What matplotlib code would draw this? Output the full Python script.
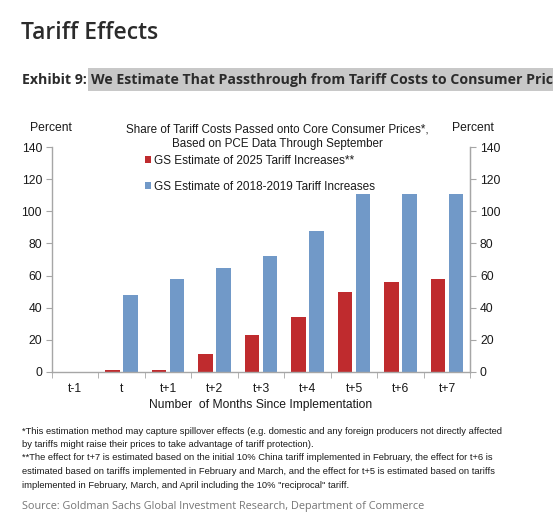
import matplotlib
matplotlib.use("Agg")
import matplotlib.pyplot as plt
import numpy as np
from matplotlib.patches import Rectangle

categories = ["t-1", "t", "t+1", "t+2", "t+3", "t+4", "t+5", "t+6", "t+7"]
gs_2025 = [0, 1, 1, 11, 23, 34, 50, 56, 58]
gs_2018_2019 = [0, 48, 58, 65, 72, 88, 111, 111, 111]
yticks = [0, 20, 40, 60, 80, 100, 120, 140]

W, H = 553, 524
fig = plt.figure(figsize=(W / 100, H / 100), dpi=100)
fig.patch.set_facecolor("white")

def fx(x):
    return x / W

def fy(y):
    return 1 - y / H

RED = "#BF2B2E"
BLUE = "#7199C8"
AXC = "#A6A6A6"
TXT = "#1a1a1a"
CH = "Liberation Sans"

left, right, y0, y140 = 51.75, 470.25, 372, 147
ax = fig.add_axes([fx(left), fy(y0), fx(right) - fx(left), (y0 - y140) / H])
x = np.arange(len(categories))
bw = 0.31
off = 0.19
ax.bar(x - off, gs_2025, width=bw, color=RED, label="GS Estimate of 2025 Tariff Increases**")
ax.bar(x + off, gs_2018_2019, width=bw, color=BLUE, label="GS Estimate of 2018-2019 Tariff Increases")
ax.set_xlim(-0.5, len(categories) - 0.5)
ax.set_ylim(0, 140)
ax.set_yticks(yticks)
ax.set_yticklabels([str(v) for v in yticks], fontfamily=CH, fontsize=8.7, color=TXT)
ax.set_xticks(x)
ax.set_xticklabels(categories, fontfamily=CH, fontsize=8.7, color=TXT)
ax.set_xticks(np.arange(len(categories) + 1) - 0.5, minor=True)
ax.tick_params(axis="x", which="major", length=0, pad=8)
ax.tick_params(axis="x", which="minor", length=4, color=AXC, direction="out")
ax.tick_params(axis="y", which="major", length=4, color=AXC, direction="out", pad=3)
ax.spines["top"].set_visible(False)
for s in ["left", "right", "bottom"]:
    ax.spines[s].set_color(AXC)
    ax.spines[s].set_linewidth(1.0)

ax2 = ax.twinx()
ax2.set_ylim(0, 140)
ax2.set_yticks(yticks)
ax2.set_yticklabels([str(v) for v in yticks], fontfamily=CH, fontsize=8.7, color=TXT)
ax2.tick_params(axis="y", length=4, color=AXC, direction="out", pad=3)
for s in ["top", "left", "bottom"]:
    ax2.spines[s].set_visible(False)
ax2.spines["right"].set_color(AXC)

ax.set_xlabel("Number  of Months Since Implementation", fontfamily=CH, fontsize=8.7, color=TXT, labelpad=3)

fig.text(fx(51), fy(128), "Percent", ha="center", va="center", fontfamily=CH, fontsize=8.7, color=TXT)
fig.text(fx(473), fy(128), "Percent", ha="center", va="center", fontfamily=CH, fontsize=8.7, color=TXT)
fig.text(fx(277), fy(130), "Share of Tariff Costs Passed onto Core Consumer Prices*,",
         ha="center", va="center", fontfamily=CH, fontsize=8.4, color=TXT)
fig.text(fx(277), fy(144), "Based on PCE Data Through September",
         ha="center", va="center", fontfamily=CH, fontsize=8.4, color=TXT)

leg = ax.legend(loc="upper left", bbox_to_anchor=(fx(145), fy(155)), bbox_transform=fig.transFigure,
                frameon=False, prop={"family": CH, "size": 8.5}, handlelength=0.5, handleheight=0.5,
                handletextpad=0.3, labelspacing=1.15, borderaxespad=0, borderpad=0)
for t in leg.get_texts():
    t.set_color(TXT)

# Header
fig.text(fx(21), fy(39), "Tariff Effects", ha="left", va="baseline", fontfamily="Open Sans",
         fontweight="semibold", fontsize=16.5, color="#2b2b2b")
fig.patches.append(Rectangle((fx(88), fy(91)), 1 - fx(88), (91 - 68) / H, transform=fig.transFigure,
                             facecolor="#C8C8C8", edgecolor="none", zorder=0))
fig.text(fx(22), fy(84), "Exhibit 9:", ha="left", va="baseline", fontfamily="Open Sans",
         fontweight="bold", fontsize=10.2, color="#2b2b2b")
fig.text(fx(91), fy(84), "We Estimate That Passthrough from Tariff Costs to Consumer Pric",
         ha="left", va="baseline", fontfamily="Open Sans", fontweight="bold", fontsize=10.2, color="#2b2b2b")

notes = ["*This estimation method may capture spillover effects (e.g. domestic and any foreign producers not directly affected",
         "by tariffs might raise their prices to take advantage of tariff protection).",
         "**The effect for t+7 is estimated based on the initial 10% China tariff implemented in February, the effect for t+6 is",
         "estimated based on tariffs implemented in February and March, and the effect for t+5 is estimated based on tariffs",
         "implemented in February, March, and April including the 10% \"reciprocal\" tariff."]
ys = [431, 444.5, 458, 472, 486]
for t, yy in zip(notes, ys):
    fig.text(fx(22), fy(yy), t, ha="left", va="center", fontfamily=CH, fontsize=6.75, color=TXT)

fig.text(fx(22), fy(506), "Source: Goldman Sachs Global Investment Research, Department of Commerce",
         ha="left", va="center", fontfamily="Open Sans", fontsize=7.8, color="#767676")

fig.savefig("out.png", dpi=100)
